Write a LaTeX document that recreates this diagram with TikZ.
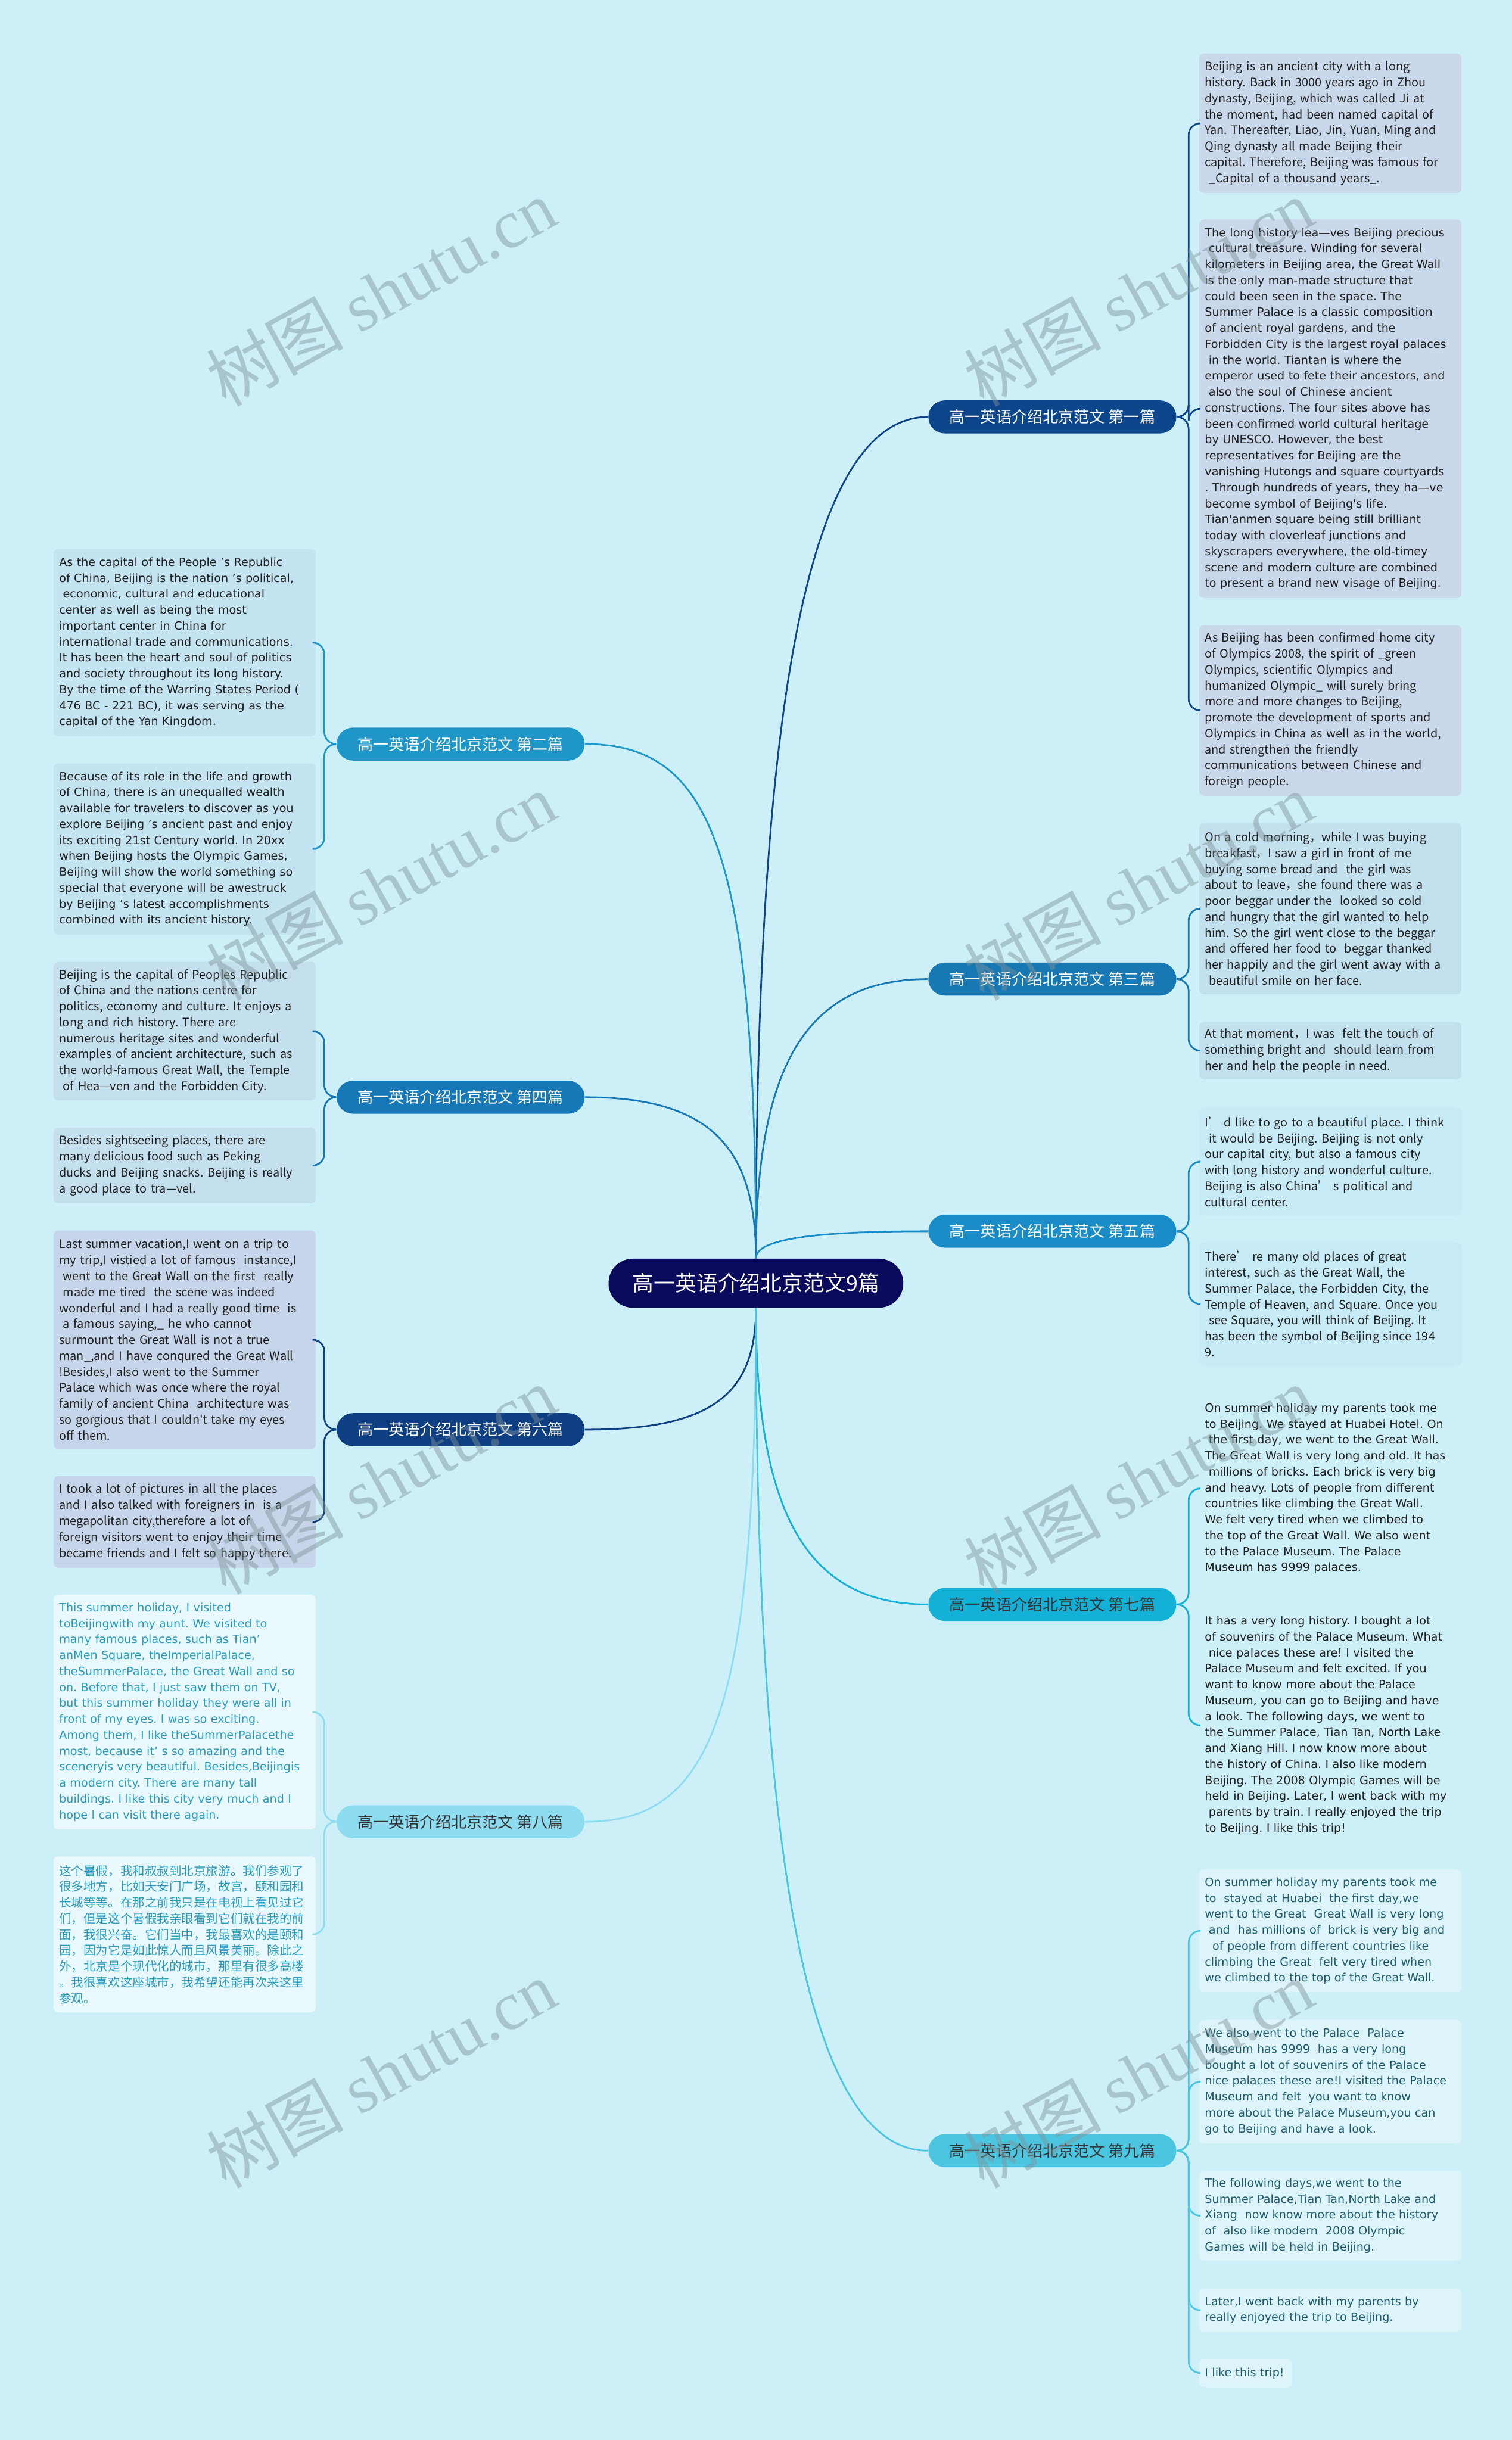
\documentclass[tikz,border=0pt]{standalone}
\usepackage{fontspec}
\setmainfont{Noto Sans CJK SC}
\newfontfamily\widefont{DejaVu Sans}
\newfontfamily\markfont{Liberation Serif}
\usetikzlibrary{positioning, calc}

\definecolor{bgblue}{HTML}{CDF0F8}
\definecolor{rootnavy}{HTML}{0A0A5C}
\definecolor{brA}{HTML}{0E468C}
\definecolor{brB}{HTML}{1E96C8}
\definecolor{brC}{HTML}{1778B4}
\definecolor{brD}{HTML}{1778B8}
\definecolor{brE}{HTML}{1A8DC8}
\definecolor{brF}{HTML}{0D3F82}
\definecolor{brG}{HTML}{13B0D8}
\definecolor{brH}{HTML}{8EDCF0}
\definecolor{brI}{HTML}{4CC6E0}
\definecolor{boxA}{HTML}{C9D8EA}
\definecolor{boxB}{HTML}{C4E4F2}
\definecolor{boxC}{HTML}{C3E0EE}
\definecolor{boxD}{HTML}{C4E0EE}
\definecolor{boxE}{HTML}{C6EAF6}
\definecolor{boxF}{HTML}{C6D5E9}
\definecolor{boxH}{HTML}{E8F8FC}
\definecolor{boxI}{HTML}{DDF4FA}
\definecolor{tealtxt}{HTML}{2A9CBE}
\definecolor{deeptxt}{HTML}{1E5C6E}
\definecolor{wmgray}{HTML}{7F9298}

\hyphenpenalty=10000
\exhyphenpenalty=10000

\begin{document}
\frenchspacing
\begin{tikzpicture}[
  root/.style={fill=rootnavy, text=white, rounded corners=0.41cm, minimum width=4.99cm,
    minimum height=0.83cm, inner sep=0pt, font=\fontsize{10.3}{12}\selectfont},
  branch/.style={rounded corners=0.28cm, minimum width=4.2cm, minimum height=0.56cm,
    inner sep=0pt, font=\fontsize{7.5}{9}\selectfont},
  txt/.style={anchor=north west, text width=4.25cm, inner xsep=0.095cm, inner ysep=0pt,
    align=left, rounded corners=0.08cm, text=black!88, font=\fontsize{5.7}{7.68}\selectfont},
  wtxt/.style={txt, font=\widefont\fontsize{5.5}{7.68}\selectfont},
  link/.style={line width=0.8pt},
  fork/.style={line width=0.8pt, rounded corners=0.2cm},
  wmark/.style={rotate=29, text=wmgray, opacity=0.45, font=\fontsize{33}{33}\selectfont}
]
\fill[bgblue] (0,0) rectangle (25.60,-41.32);
\useasboundingbox (0,0) rectangle (25.60,-41.32);

% 中心
\node[root] (root) at (12.80,-21.73) {高一英语介绍北京范文9篇};

% 分支
\node[branch, fill=brA, text=white] (b1) at (17.82,-7.06) {高一英语介绍北京范文 第一篇};
\node[branch, fill=brB, text=white] (b2) at (7.80,-12.60) {高一英语介绍北京范文 第二篇};
\node[branch, fill=brC, text=white] (b3) at (17.82,-16.58) {高一英语介绍北京范文 第三篇};
\node[branch, fill=brD, text=white] (b4) at (7.80,-18.58) {高一英语介绍北京范文 第四篇};
\node[branch, fill=brE, text=white] (b5) at (17.82,-20.85) {高一英语介绍北京范文 第五篇};
\node[branch, fill=brF, text=white] (b6) at (7.80,-24.21) {高一英语介绍北京范文 第六篇};
\node[branch, fill=brG, text=black!80] (b7) at (17.82,-27.17) {高一英语介绍北京范文 第七篇};
\node[branch, fill=brH, text=black!80] (b8) at (7.80,-30.85) {高一英语介绍北京范文 第八篇};
\node[branch, fill=brI, text=black!80] (b9) at (17.82,-36.42) {高一英语介绍北京范文 第九篇};

% 中心到分支
\draw[link, brA] (root.north) .. controls +(0,9) and +(-2.1,0) .. (b1.west);
\draw[link, brB] (root.north) .. controls +(0,7) and +(2.1,0) .. (b2.east);
\draw[link, brC] (root.north) .. controls +(0,3.2) and +(-2.1,0) .. (b3.west);
\draw[link, brD] (root.north) .. controls +(0,1.9) and +(2.1,0) .. (b4.east);
\draw[link, brE] (root.north) .. controls +(0,0.3) and +(-2.1,0) .. (b5.west);
\draw[link, brF] (root.south) .. controls +(0,-1.5) and +(2.1,0) .. (b6.east);
\draw[link, brG] (root.south) .. controls +(0,-3.4) and +(-2.1,0) .. (b7.west);
\draw[link, brH] (root.south) .. controls +(0,-7) and +(2.1,0) .. (b8.east);
\draw[link, brI] (root.south) .. controls +(0,-9) and +(-2.1,0) .. (b9.west);

% 第一篇
\node[txt, fill=boxA, minimum height=2.36cm] (p1a) at (20.30,-0.90)
  {Beijing is an ancient city with a long\\history. Back in 3000 years ago in Zhou\\dynasty, Beijing, which was called Ji at\\the moment, had been named capital of\\Yan. Thereafter, Liao, Jin, Yuan, Ming and\\Qing dynasty all made Beijing their\\capital. Therefore, Beijing was famous for\\~\_Capital of a thousand years\_.};
\node[wtxt, fill=boxA, minimum height=6.41cm] (p1b) at (20.30,-3.71)
  {The long history lea—ves Beijing precious\\~cultural treasure. Winding for several\\kilometers in Beijing area, the Great Wall\\is the only man-made structure that\\could been seen in the space. The\\Summer Palace is a classic composition\\of ancient royal gardens, and the\\Forbidden City is the largest royal palaces\\~in the world. Tiantan is where the\\emperor used to fete their ancestors, and\\~also the soul of Chinese ancient\\constructions. The four sites above has\\been confirmed world cultural heritage\\by UNESCO. However, the best\\representatives for Beijing are the\\vanishing Hutongs and square courtyards\\. Through hundreds of years, they ha—ve\\become symbol of Beijing\textquotesingle s life.\\Tian\textquotesingle anmen square being still brilliant\\today with cloverleaf junctions and\\skyscrapers everywhere, the old-timey\\scene and modern culture are combined\\to present a brand new visage of Beijing.};
\node[txt, fill=boxA, minimum height=2.89cm] (p1c) at (20.30,-10.58)
  {As Beijing has been confirmed home city\\of Olympics 2008, the spirit of \_green\\Olympics, scientific Olympics and\\humanized Olympic\_ will surely bring\\more and more changes to Beijing,\\promote the development of sports and\\Olympics in China as well as in the world,\\and strengthen the friendly\\communications between Chinese and\\foreign people.};
\draw[fork, brA] (b1.east) -- ++(0.2,0) |- (p1a.west);
\draw[fork, brA] (b1.east) -- ++(0.2,0) |- (p1b.west);
\draw[fork, brA] (b1.east) -- ++(0.2,0) |- (p1c.west);

% 第二篇
\node[wtxt, fill=boxB, minimum height=3.17cm] (p2a) at (0.90,-9.29)
  {As the capital of the People\,\,’s Republic\\of China, Beijing is the nation\,\,’s political,\\~economic, cultural and educational\\center as well as being the most\\important center in China for\\international trade and communications.\\It has been the heart and soul of politics\\and society throughout its long history.\\By the time of the Warring States Period (\\476 BC - 221 BC), it was serving as the\\capital of the Yan Kingdom.};
\node[wtxt, fill=boxB, minimum height=2.90cm] (p2b) at (0.90,-12.92)
  {Because of its role in the life and growth\\of China, there is an unequalled wealth\\available for travelers to discover as you\\explore Beijing\,\,’s ancient past and enjoy\\its exciting 21st Century world. In 20xx\\when Beijing hosts the Olympic Games,\\Beijing will show the world something so\\special that everyone will be awestruck\\by Beijing\,\,’s latest accomplishments\\combined with its ancient history.};
\draw[fork, brB] (b2.west) -- ++(-0.2,0) |- (p2a.east);
\draw[fork, brB] (b2.west) -- ++(-0.2,0) |- (p2b.east);

% 第三篇
\node[txt, fill=boxC, minimum height=2.90cm] (p3a) at (20.30,-13.93)
  {On a cold morning，while I was buying\\breakfast，I saw a girl in front of me\\buying some bread and\ \ the girl was\\about to leave，she found there was a\\poor beggar under the\ \ looked so cold\\and hungry that the girl wanted to help\\him. So the girl went close to the beggar\\and offered her food to\ \ beggar thanked\\her happily and the girl went away with a\\~beautiful smile on her face.};
\node[txt, fill=boxC, minimum height=0.97cm] (p3b) at (20.30,-17.30)
  {At that moment，I was\ \ felt the touch of\\something bright and\ \ should learn from\\her and help the people in need.};
\draw[fork, brC] (b3.east) -- ++(0.2,0) |- (p3a.west);
\draw[fork, brC] (b3.east) -- ++(0.2,0) |- (p3b.west);

% 第四篇
\node[txt, fill=boxD, minimum height=2.35cm] (p4a) at (0.90,-16.28)
  {Beijing is the capital of Peoples Republic\\of China and the nations centre for\\politics, economy and culture. It enjoys a\\long and rich history. There are\\numerous heritage sites and wonderful\\examples of ancient architecture, such as\\the world-famous Great Wall, the Temple\\~of Hea—ven and the Forbidden City.};
\node[txt, fill=boxD, minimum height=1.28cm] (p4b) at (0.90,-19.09)
  {Besides sightseeing places, there are\\many delicious food such as Peking\\ducks and Beijing snacks. Beijing is really\\a good place to tra—vel.};
\draw[fork, brD] (b4.west) -- ++(-0.2,0) |- (p4a.east);
\draw[fork, brD] (b4.west) -- ++(-0.2,0) |- (p4b.east);

% 第五篇
\node[txt, fill=boxE, minimum height=1.83cm] (p5a) at (20.30,-18.75)
  {I’\ d like to go to a beautiful place. I think\\~it would be Beijing. Beijing is not only\\our capital city, but also a famous city\\with long history and wonderful culture.\\Beijing is also China’\ s political and\\cultural center.};
\node[txt, fill=boxE, minimum height=2.09cm] (p5b) at (20.30,-21.03)
  {There’\ re many old places of great\\interest, such as the Great Wall, the\\Summer Palace, the Forbidden City, the\\Temple of Heaven, and Square. Once you\\~see Square, you will think of Beijing. It\\has been the symbol of Beijing since 194\\9.};
\draw[fork, brE] (b5.east) -- ++(0.2,0) |- (p5a.west);
\draw[fork, brE] (b5.east) -- ++(0.2,0) |- (p5b.west);

% 第六篇
\node[txt, fill=boxF, minimum height=3.70cm] (p6a) at (0.90,-20.83)
  {Last summer vacation,I went on a trip to\\my trip,I vistied a lot of famous\ \ instance,I\\~went to the Great Wall on the first\ \ really\\~made me tired\ \ the scene was indeed\\wonderful and I had a really good time\ \ is\\~a famous saying,\_ he who cannot\\surmount the Great Wall is not a true\\man\_,and I have conqured the Great Wall\\!Besides,I also went to the Summer\\Palace which was once where the royal\\family of ancient China\ \ architecture was\\so gorgious that I couldn\textquotesingle t take my eyes\\off them.};
\node[txt, fill=boxF, minimum height=1.55cm] (p6b) at (0.90,-24.99)
  {I took a lot of pictures in all the places\\and I also talked with foreigners in\ \ is a\\megapolitan city,therefore a lot of\\foreign visitors went to enjoy their time\\became friends and I felt so happy there.};
\draw[fork, brF] (b6.west) -- ++(-0.2,0) |- (p6a.east);
\draw[fork, brF] (b6.west) -- ++(-0.2,0) |- (p6b.east);

% 第七篇
\node[wtxt, minimum height=3.20cm] (p7a) at (20.30,-23.60)
  {On summer holiday my parents took me\\to Beijing. We stayed at Huabei Hotel. On\\~the first day, we went to the Great Wall.\\The Great Wall is very long and old. It has\\~millions of bricks. Each brick is very big\\and heavy. Lots of people from different\\countries like climbing the Great Wall.\\We felt very tired when we climbed to\\the top of the Great Wall. We also went\\to the Palace Museum. The Palace\\Museum has 9999 palaces.};
\node[wtxt, minimum height=4.00cm] (p7b) at (20.30,-27.21)
  {It has a very long history. I bought a lot\\of souvenirs of the Palace Museum. What\\~nice palaces these are! I visited the\\Palace Museum and felt excited. If you\\want to know more about the Palace\\Museum, you can go to Beijing and have\\a look. The following days, we went to\\the Summer Palace, Tian Tan, North Lake\\and Xiang Hill. I now know more about\\the history of China. I also like modern\\Beijing. The 2008 Olympic Games will be\\held in Beijing. Later, I went back with my\\~parents by train. I really enjoyed the trip\\to Beijing. I like this trip!};
\draw[fork, brG] (b7.east) -- ++(0.2,0) |- (p7a.west);
\draw[fork, brG] (b7.east) -- ++(0.2,0) |- (p7b.west);

% 第八篇
\node[wtxt, fill=boxH, text=tealtxt, minimum height=3.97cm] (p8a) at (0.90,-27.00)
  {This summer holiday, I visited\\toBeijingwith my aunt. We visited to\\many famous places, such as Tian’\\anMen Square, theImperialPalace,\\theSummerPalace, the Great Wall and so\\on. Before that, I just saw them on TV,\\but this summer holiday they were all in\\front of my eyes. I was so exciting.\\Among them, I like theSummerPalacethe\\most, because it’\ s so amazing and the\\sceneryis very beautiful. Besides,Beijingis\\a modern city. There are many tall\\buildings. I like this city very much and I\\hope I can visit there again.};
\node[txt, fill=boxH, text=tealtxt, minimum height=2.64cm, font=\fontsize{5.9}{7.68}\selectfont] (p8b) at (0.90,-31.43)
  {这个暑假，我和叔叔到北京旅游。我们参观了\\很多地方，比如天安门广场，故宫，颐和园和\\长城等等。在那之前我只是在电视上看见过它\\们，但是这个暑假我亲眼看到它们就在我的前\\面，我很兴奋。它们当中，我最喜欢的是颐和\\园，因为它是如此惊人而且风景美丽。除此之\\外，北京是个现代化的城市，那里有很多高楼\\。我很喜欢这座城市，我希望还能再次来这里\\参观。};
\draw[fork, brH] (b8.west) -- ++(-0.2,0) |- (p8a.east);
\draw[fork, brH] (b8.west) -- ++(-0.2,0) |- (p8b.east);

% 第九篇
\node[wtxt, fill=boxI, text=deeptxt, minimum height=2.08cm] (p9a) at (20.30,-31.65)
  {On summer holiday my parents took me\\to\ \ stayed at Huabei\ \ the first day,we\\went to the Great\ \ Great Wall is very long\\~and\ \ has millions of\ \ brick is very big and\\~~of people from different countries like\\climbing the Great\ \ felt very tired when\\we climbed to the top of the Great Wall.};
\node[wtxt, fill=boxI, text=deeptxt, minimum height=2.09cm] (p9b) at (20.30,-34.20)
  {We also went to the Palace\ \ Palace\\Museum has 9999\ \ has a very long\\bought a lot of souvenirs of the Palace\\nice palaces these are!I visited the Palace\\Museum and felt\ \ you want to know\\more about the Palace Museum,you can\\go to Beijing and have a look.};
\node[wtxt, fill=boxI, text=deeptxt, minimum height=1.53cm] (p9c) at (20.30,-36.75)
  {The following days,we went to the\\Summer Palace,Tian Tan,North Lake and\\Xiang\ \ now know more about the history\\of\ \ also like modern\ \ 2008 Olympic\\Games will be held in Beijing.};
\node[wtxt, fill=boxI, text=deeptxt, minimum height=0.73cm] (p9d) at (20.30,-38.75)
  {Later,I went back with my parents by\\really enjoyed the trip to Beijing.};
\node[wtxt, fill=boxI, text=deeptxt, minimum height=0.48cm, text width=1.38cm] (p9e) at (20.30,-39.94)
  {I like this trip!};
\draw[fork, brI] (b9.east) -- ++(0.2,0) |- (p9a.west);
\draw[fork, brI] (b9.east) -- ++(0.2,0) |- (p9b.west);
\draw[fork, brI] (b9.east) -- ++(0.2,0) |- (p9c.west);
\draw[fork, brI] (b9.east) -- ++(0.2,0) |- (p9d.west);
\draw[fork, brI] (b9.east) -- ++(0.2,0) |- (p9e.west);

% 水印
\node[wmark] (wm1) at (6.45,-4.95) {树图 {\markfont shutu.cn}};
\node[wmark] (wm2) at (6.45,-15.01) {树图 {\markfont shutu.cn}};
\node[wmark] (wm3) at (6.45,-25.06) {树图 {\markfont shutu.cn}};
\node[wmark] (wm4) at (6.45,-35.12) {树图 {\markfont shutu.cn}};
\node[wmark] (wm5) at (19.28,-4.95) {树图 {\markfont shutu.cn}};
\node[wmark] (wm6) at (19.28,-15.01) {树图 {\markfont shutu.cn}};
\node[wmark] (wm7) at (19.28,-25.06) {树图 {\markfont shutu.cn}};
\node[wmark] (wm8) at (19.28,-35.12) {树图 {\markfont shutu.cn}};
\end{tikzpicture}
\end{document}
